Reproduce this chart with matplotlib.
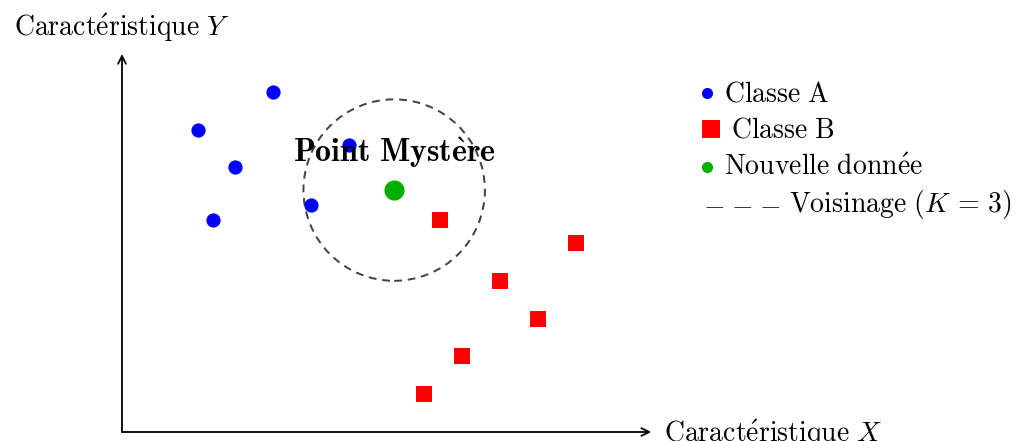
import matplotlib
matplotlib.use("Agg")
import matplotlib.pyplot as plt
from matplotlib.patches import Circle
from matplotlib.lines import Line2D

plt.rcParams['mathtext.fontset'] = 'cm'

# Data (cm units as in the original drawing)
classA_x = [2.0, 4.0, 3.0, 2.4, 5.0, 6.0]
classA_y = [8.0, 9.0, 7.0, 5.6, 6.0, 7.6]
classB_x = [8.4, 12.0, 10.0, 11.0, 9.0, 8.0]
classB_y = [5.6, 5.0, 4.0, 3.0, 2.0, 1.0]
new_x = [7.2]
new_y = [6.4]
radius = 2.4
x_axis_len = 14.0
y_axis_len = 10.0

W, H = 1021, 441
S = 37.8          # px per unit
ox, oy = 122, 432  # origin in px

fig = plt.figure(figsize=(W / 100, H / 100), dpi=100)
ax = fig.add_axes([0, 0, 1, 1])
ax.set_xlim(-ox / S, (W - ox) / S)
ax.set_ylim(-(H - oy) / S, oy / S)
ax.axis('off')

fs = 20

# axes arrows
ap = dict(arrowstyle='->', lw=1.3, color='black', shrinkA=0, shrinkB=0,
          mutation_scale=14)
ax.annotate('', xy=(x_axis_len, 0), xytext=(0, 0), arrowprops=ap)
ax.annotate('', xy=(0, y_axis_len), xytext=(0, 0), arrowprops=ap)
ax.text(x_axis_len + 0.33, -0.05, r'$\mathrm{Caract\acute{e}ristique}\ X$',
        fontsize=fs, ha='left', va='center')
ax.text(0, y_axis_len + 0.7, r'$\mathrm{Caract\acute{e}ristique}\ Y$',
        fontsize=fs, ha='center', va='center')

# neighbourhood circle
ax.add_patch(Circle((new_x[0], new_y[0]), radius, fill=False, ls=(0, (4, 3)),
                    lw=1.4, ec='#404040'))

# points
ax.scatter(classA_x, classA_y, s=105, color='#0000ff', marker='o', lw=0, zorder=3)
ax.scatter(classB_x, classB_y, s=125, color='#ff0000', marker='s', lw=0, zorder=3)
ax.scatter(new_x, new_y, s=210, color='#00b000', marker='o', lw=0, zorder=3)

ax.text(new_x[0], new_y[0] + 1.0, r'$\mathbf{Point\ Myst\grave{e}re}$',
        fontsize=23, ha='center', va='center', zorder=4)

# legend (manual, figure pixel positions)
def fx(px): return px / W
def fy(py): return 1 - py / H

rows = [93, 129, 167, 204]
fig.add_artist(Line2D([fx(707)], [fy(rows[0])], marker='o', ms=8, color='#0000ff', mew=0, ls=''))
fig.text(fx(724), fy(rows[0]), r'$\mathrm{Classe\ A}$', fontsize=fs, va='center', ha='left')
fig.add_artist(Line2D([fx(711)], [fy(rows[1])], marker='s', ms=13, color='#ff0000', mew=0, ls=''))
fig.text(fx(731), fy(rows[1]), r'$\mathrm{Classe\ B}$', fontsize=fs, va='center', ha='left')
fig.add_artist(Line2D([fx(707)], [fy(rows[2])], marker='o', ms=8, color='#00b000', mew=0, ls=''))
fig.text(fx(724), fy(rows[2]), r'$\mathrm{Nouvelle\ donn\acute{e}e}$', fontsize=fs, va='center', ha='left')
fig.text(fx(703), fy(rows[3]), r'${-}\;{-}\;{-}$', fontsize=fs, va='center', ha='left')
fig.text(fx(789), fy(rows[3]), r'$\mathrm{Voisinage}\ (K\,=\,3)$', fontsize=fs, va='center', ha='left')

fig.savefig('out.png', dpi=100)
